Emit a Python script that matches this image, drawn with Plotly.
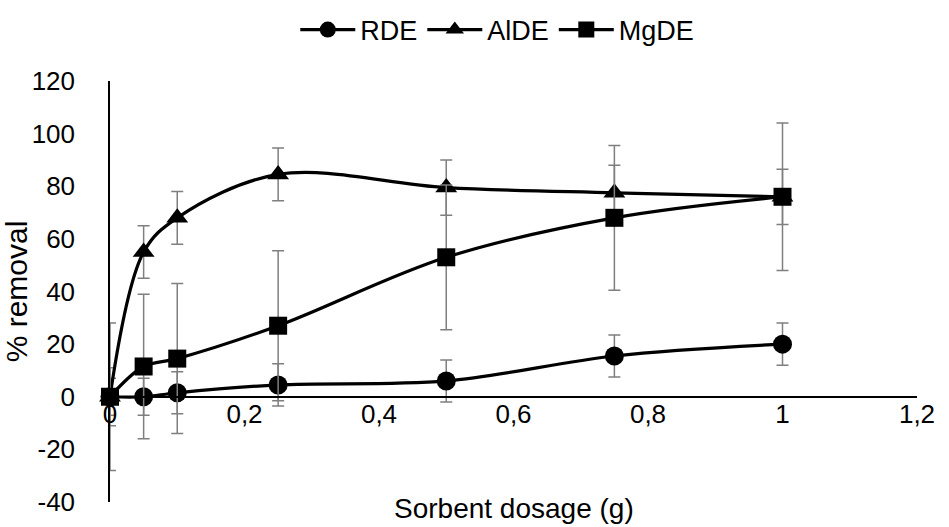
import plotly.graph_objects as go

dosage = [0, 0.05, 0.1, 0.25, 0.5, 0.75, 1]
rde = [0, 0, 1.5, 4.5, 6, 15.5, 20]
rde_err = [7, 7, 8, 8, 8, 8, 8]
alde = [0, 55, 68, 84.5, 79.5, 77.5, 76]
alde_err = [11, 10, 10, 10, 10.5, 10.5, 10.5]
mgde = [0, 11.5, 14.5, 27, 53, 68, 76]
mgde_err = [28, 27.5, 28.5, 28.5, 27.5, 27.5, 28]

x_ticks = [0, 0.2, 0.4, 0.6, 0.8, 1, 1.2]
x_ticklabels = ["0", "0,2", "0,4", "0,6", "0,8", "1", "1,2"]
y_ticks = [-40, -20, 0, 20, 40, 60, 80, 100, 120]
y_ticklabels = ["-40", "-20", "0", "20", "40", "60", "80", "100", "120"]

FONT = "Liberation Sans, Arial, sans-serif"
ERR = "#7f7f7f"

series = [
    ("RDE", rde, rde_err, "circle", 19),
    ("AlDE", alde, alde_err, "triangle-up", 19),
    ("MgDE", mgde, mgde_err, "square", 18),
]

fig = go.Figure()
for name, vals, errs, sym, size in series:
    fig.add_trace(go.Scatter(
        x=dosage, y=vals, name=name, mode="lines+markers",
        line=dict(color="black", width=3.2, shape="spline", smoothing=1.0),
        marker=dict(symbol=sym, size=size, color="black"),
        error_y=dict(type="data", array=errs, visible=True, color=ERR,
                     thickness=1.5, width=6),
        cliponaxis=False,
    ))

fig.update_layout(
    width=949, height=527,
    margin=dict(l=110, r=32, t=81, b=25),
    paper_bgcolor="white", plot_bgcolor="white",
    font=dict(family=FONT, size=26, color="black"),
    showlegend=True,
    legend=dict(orientation="h", x=0.524, xref="container", xanchor="center",
                y=0.943, yref="container", yanchor="middle",
                font=dict(size=27), itemwidth=55, tracegroupgap=0),
    xaxis=dict(range=[0, 1.2], tickvals=x_ticks, ticktext=x_ticklabels,
               showgrid=False, zeroline=False, showline=True, linecolor="black",
               linewidth=2, ticks="", anchor="free", position=0.25,
               ticklabelstandoff=-6,
               tickfont=dict(size=26), automargin=False),
    yaxis=dict(range=[-40, 120], tickvals=y_ticks, ticktext=y_ticklabels,
               showgrid=False, zeroline=False, showline=True, linecolor="black",
               linewidth=1.5, ticks="", ticklabelstandoff=28,
               title=dict(text="% removal", font=dict(size=30), standoff=4),
               tickfont=dict(size=26), automargin=False),
    annotations=[dict(text="Sorbent dosage (g)", xref="paper", yref="paper",
                      x=0.5, y=-0.057, xanchor="center", yanchor="bottom",
                      showarrow=False, font=dict(size=28))],
)

fig.write_html("out.html")
